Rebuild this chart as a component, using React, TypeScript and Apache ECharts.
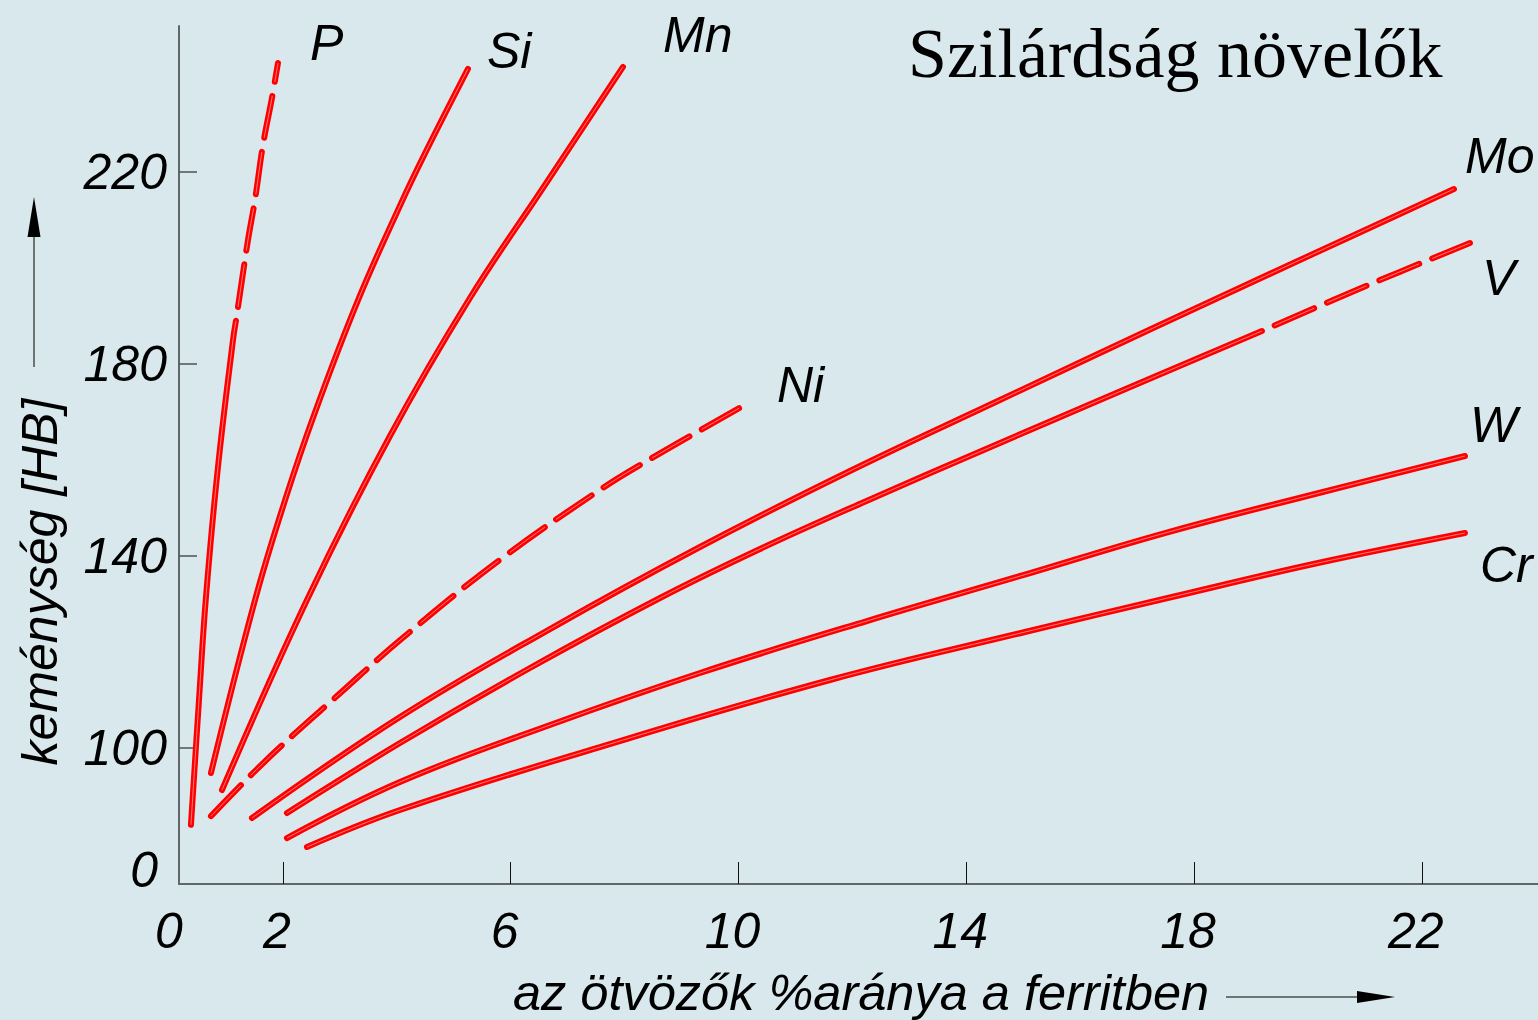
import React, { useEffect, useRef } from "react";
import * as echarts from "echarts";

// ---- axis data ----
const xTickValues = [2, 6, 10, 14, 18, 22];
const yTickValues = [100, 140, 180, 220];
const xMin = 0.176;
const xMax = 24.04;
const yMin = 71.67;
const yMax = 250.42;
const yZeroLabelAt = 74.6;

// ---- curves: [alloy %, hardness HB] ----
const P_solid = [[0.386, 84.0], [0.527, 110.0], [0.65, 131.5], [0.86, 158.5], [1.124, 185.0], [1.176, 189.0]];
const P_dashed = [[1.176, 189.0], [1.282, 197.5], [1.387, 205.8], [1.51, 214.2], [1.65, 225.6], [1.808, 235.4], [1.914, 242.7]];
const Si = [[0.737, 94.8], [1.51, 130.8], [2.04, 151.7], [2.56, 169.8], [3.32, 193.3], [4.06, 213.1], [4.5, 224.0], [5.25, 241.5]];
const Mn = [[0.931, 91.25], [2.423, 130.83], [3.881, 165.0], [5.285, 193.75], [6.602, 217.3], [7.972, 241.9]];
const Ni = [[0.737, 85.8], [1.46, 94.6], [2.18, 102.7], [2.91, 110.4], [4.06, 122.5], [5.81, 139.2], [7.62, 154.2], [8.45, 160.2], [10.08, 171.25]];
const Mo = [[1.457, 85.42], [4.056, 106.46], [6.69, 124.79], [9.324, 141.88], [11.958, 157.71], [14.592, 172.5], [17.226, 187.19], [19.86, 201.67], [22.564, 216.46]];
const V_solid = [[2.072, 86.46], [4.056, 101.04], [6.339, 116.67], [8.622, 131.25], [10.378, 141.46], [12.168, 151.04], [14.592, 163.54], [16.348, 172.5], [19.192, 186.88]];
const V_dashed = [[19.192, 186.88], [21.018, 196.25], [22.845, 205.21]];
const W = [[2.072, 81.25], [4.056, 92.92], [6.69, 104.79], [9.324, 115.63], [12.256, 126.46], [14.89, 135.63], [17.489, 144.79], [20.123, 152.92], [22.757, 160.83]];
const Cr = [[2.423, 79.38], [4.056, 87.08], [7.568, 100.21], [11.607, 114.17], [15.031, 124.17], [17.612, 131.46], [20.176, 138.54], [22.757, 144.79]];

const curveNames = ["P", "P", "Si", "Mn", "Ni", "Mo", "V", "V", "W", "Cr"];
const curveData = [P_solid, P_dashed, Si, Mn, Ni, Mo, V_solid, V_dashed, W, Cr];
const curveDashed = [false, true, false, false, true, false, false, true, false, false];
const curveDashOffset = [0, 43, 0, 0, 0, 0, 0, 43, 0, 0];

const seriesLabels = ["P", "Si", "Mn", "Ni", "Mo", "V", "W", "Cr"];

const TITLE = "Szilárdság növelők";
const Y_TITLE = "keménység [HB]";
const X_TITLE = "az ötvözők %aránya a ferritben";

const SANS = '"Liberation Sans", Arial, sans-serif';
const SERIF = '"Liberation Serif", "Times New Roman", serif';

export default function App() {
  const ref = useRef<HTMLDivElement>(null);

  useEffect(() => {
    if (!ref.current) return;
    const chart = echarts.init(ref.current, undefined, { renderer: "svg" });

    const series: any[] = [];
    curveData.forEach((data, i) => {
      const dash = curveDashed[i] ? [43, 14] : "solid";
      series.push({
        type: "line",
        name: curveNames[i],
        data,
        symbol: "none",
        smooth: 0.4,
        z: 3,
        lineStyle: {
          color: "#ff0000",
          width: 6,
          type: dash,
          dashOffset: curveDashOffset[i],
          cap: "round",
          join: "round",
        },
      });
      series.push({
        type: "line",
        name: curveNames[i] + "-hl",
        data,
        symbol: "none",
        smooth: 0.4,
        z: 4,
        lineStyle: {
          color: "#ff9c9c",
          width: 0.8,
          type: dash,
          dashOffset: curveDashOffset[i],
          cap: "butt",
          join: "round",
        },
      });
    });

    const labelPos: Record<string, [number, number]> = {
      P: [310, 43],
      Si: [487, 51],
      Mn: [663, 35],
      Ni: [777, 385],
      Mo: [1465, 156],
      V: [1482, 278],
      W: [1470, 425],
      Cr: [1480, 565],
    };

    const textStyle = (text: string, size: number, family: string, italic: boolean, extra: any = {}) => ({
      text,
      fill: "#000",
      fontSize: size,
      fontFamily: family,
      fontStyle: italic ? "italic" : "normal",
      ...extra,
    });

    const graphic: any[] = [
      {
        type: "text",
        x: 908,
        y: 53,
        style: textStyle(TITLE, 70, SERIF, false, { verticalAlign: "middle", align: "left" }),
      },
      ...seriesLabels.map((n) => ({
        type: "text",
        x: labelPos[n][0],
        y: labelPos[n][1],
        style: textStyle(n, 50, SANS, true, { verticalAlign: "middle", align: "left" }),
      })),
      {
        type: "text",
        x: 39.5,
        y: 582,
        rotation: Math.PI / 2,
        style: textStyle(Y_TITLE, 50, SANS, true, { verticalAlign: "middle", align: "center" }),
      },
      {
        type: "line",
        shape: { x1: 34, y1: 367, x2: 34, y2: 234 },
        style: { stroke: "#000", lineWidth: 1 },
      },
      {
        type: "polygon",
        shape: { points: [[27.5, 237], [34, 197], [40.5, 237]] },
        style: { fill: "#000" },
      },
      {
        type: "text",
        x: 513,
        y: 992.5,
        style: textStyle(X_TITLE, 50.5, SANS, true, { verticalAlign: "middle", align: "left" }),
      },
      {
        type: "line",
        shape: { x1: 1226, y1: 997, x2: 1360, y2: 997 },
        style: { stroke: "#000", lineWidth: 1 },
      },
      {
        type: "polygon",
        shape: { points: [[1357, 991], [1395, 997], [1357, 1003]] },
        style: { fill: "#000" },
      },
    ];

    const labelFont = {
      fontSize: 50,
      fontStyle: "italic",
      fontFamily: SANS,
      color: "#000",
    };

    chart.setOption({
      animation: false,
      backgroundColor: "#d9e8ec",
      grid: {
        left: 179,
        right: 0,
        top: 26,
        bottom: 136,
        containLabel: false,
        outerBoundsMode: "none",
      },
      xAxis: {
        type: "value",
        min: xMin,
        max: xMax,
        splitLine: { show: false },
        axisLine: { show: true, lineStyle: { color: "#5f676a", width: 2 } },
        axisTick: {
          show: true,
          inside: true,
          length: 22,
          customValues: xTickValues,
          lineStyle: { color: "#111", width: 1 },
        },
        axisLabel: {
          show: true,
          margin: 22,
          customValues: [xMin, ...xTickValues],
          formatter: (v: number) => (v < 1 ? "{z|0}" : "{n|" + Math.round(v) + "}"),
          ...labelFont,
          rich: {
            z: { ...labelFont, padding: [0, 20, 0, 0] },
            n: { ...labelFont, padding: [0, 12, 0, 0] },
          },
        },
      },
      yAxis: {
        type: "value",
        min: yMin,
        max: yMax,
        splitLine: { show: false },
        axisLine: { show: true, lineStyle: { color: "#5f676a", width: 2 } },
        axisTick: {
          show: true,
          inside: true,
          length: 18,
          customValues: yTickValues,
          lineStyle: { color: "#4a5255", width: 1.5 },
        },
        axisLabel: {
          show: true,
          margin: 12,
          customValues: [yZeroLabelAt, ...yTickValues],
          formatter: (v: number) => (v < 90 ? "{z|0}" : "{n|" + Math.round(v) + "}"),
          ...labelFont,
          rich: {
            z: { ...labelFont, padding: [0, 9, 0, 0] },
            n: { ...labelFont },
          },
        },
      },
      series,
      graphic,
    });

    return () => chart.dispose();
  }, []);

  return (
    <div
      ref={ref}
      style={{ position: "fixed", left: 0, top: 0, width: 1538, height: 1020 }}
    />
  );
}
